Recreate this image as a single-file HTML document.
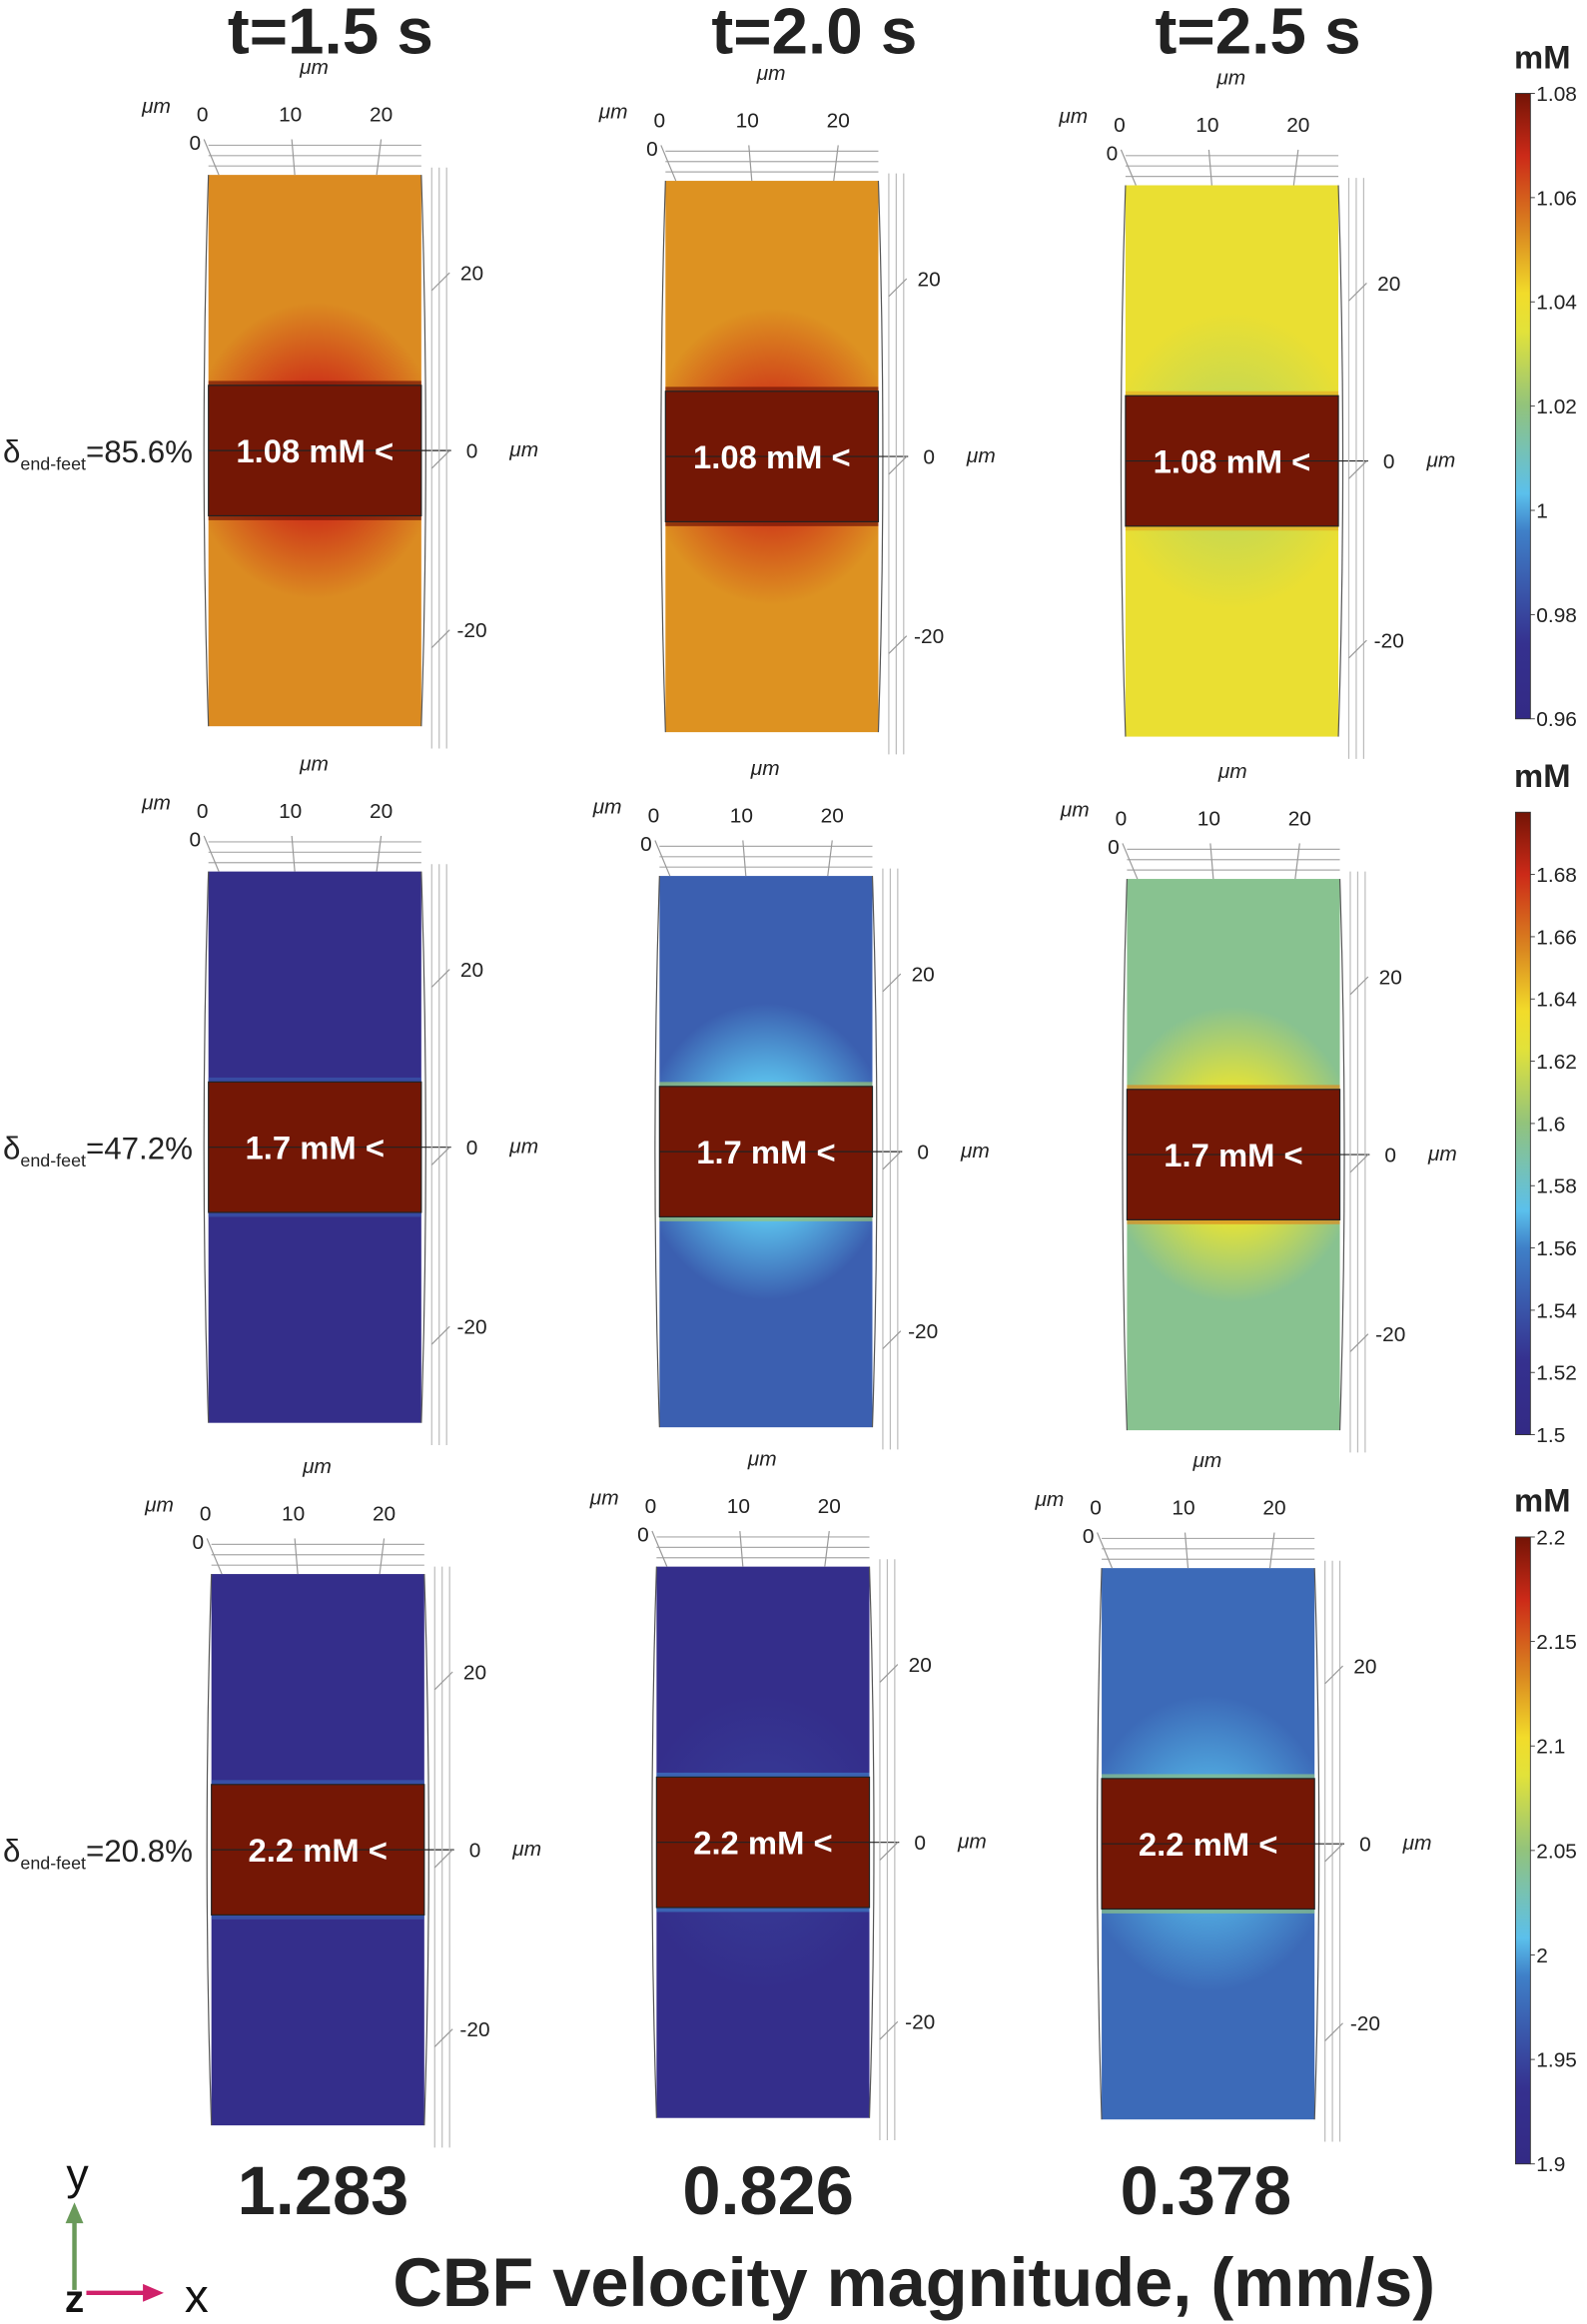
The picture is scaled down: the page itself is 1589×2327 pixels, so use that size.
<!DOCTYPE html>
<html><head><meta charset="utf-8"><style>
html,body{margin:0;padding:0;background:#fff;}
svg{display:block;font-family:"Liberation Sans",sans-serif;}
.ax{font-size:14px;fill:#222;}
</style></head><body>
<svg id="fig" width="1589" height="2327" viewBox="0 0 1066 1568" preserveAspectRatio="none" xmlns="http://www.w3.org/2000/svg">
<defs>
<linearGradient id="cmap" x1="0" y1="1" x2="0" y2="0">
<stop offset="0" stop-color="#332a85"/><stop offset="0.12" stop-color="#35318f"/>
<stop offset="0.3" stop-color="#3f80c8"/><stop offset="0.36" stop-color="#5bc0ec"/>
<stop offset="0.5" stop-color="#92c37c"/><stop offset="0.62" stop-color="#e2e23a"/>
<stop offset="0.68" stop-color="#f2dc2a"/><stop offset="0.78" stop-color="#da8720"/>
<stop offset="0.9" stop-color="#cc2a18"/><stop offset="1" stop-color="#731406"/>
</linearGradient>
</defs>
<g id="root"></g>
</svg>
<script>
const NS='http://www.w3.org/2000/svg';
const root=document.getElementById('root');
function mk(tag,attrs,parent,txt){const e=document.createElementNS(NS,tag);for(const k in attrs)e.setAttribute(k,attrs[k]);if(txt!==undefined)e.textContent=txt;(parent||root).appendChild(e);return e;}

// Data
const times=['t=1.5 s','t=2.0 s','t=2.5 s'];
const deltas=['85.6%','47.2%','20.8%'];
const bandLabels=['1.08 mM <','1.7 mM <','2.2 mM <'];
const velocities=['1.283','0.826','0.378'];
const cb1Ticks=[1.08,1.06,1.04,1.02,1,0.98,0.96];
const cb2Ticks=[1.68,1.66,1.64,1.62,1.6,1.58,1.56,1.54,1.52,1.5];
const cb3Ticks=[2.2,2.15,2.1,2.05,2,1.95,1.9];
const cbRanges=[[0.96,1.08],[1.5,1.7],[1.9,2.2]];
const cbTicks=[cb1Ticks,cb2Ticks,cb3Ticks];
// background concentration per panel (row-major)
const bgValues=[[1.053,1.052,1.038],[1.512,1.545,1.595],[1.922,1.922,1.975]];
const haloValues=[[1.066,1.064,1.03],[1.512,1.572,1.625],[1.922,1.94,2.0]];

// Layout (display coords)
const panelPos=[[[140,118],[447,122],[756,125]],[[140,588],[443,591],[757,593]],[[142,1062],[441,1057],[740,1058]]];
const PW=143,PH=372,BT=142,BH=88;
const cbBox=[[63,485],[548,968],[1037,1460]];
const colStops=[[0,'#332a85'],[0.12,'#35318f'],[0.3,'#3f80c8'],[0.36,'#5bc0ec'],[0.5,'#92c37c'],[0.62,'#e2e23a'],[0.68,'#f2dc2a'],[0.78,'#da8720'],[0.9,'#cc2a18'],[1,'#731406']];
function hex(h){return [1,3,5].map(i=>parseInt(h.substr(i,2),16));}
function cmap(t){t=Math.max(0,Math.min(1,t));for(let i=1;i<colStops.length;i++){if(t<=colStops[i][0]){const a=colStops[i-1],b=colStops[i];const f=(t-a[0])/(b[0]-a[0]);const ca=hex(a[1]),cb=hex(b[1]);return 'rgb('+ca.map((v,j)=>Math.round(v+(cb[j]-v)*f)).join(',')+')';}}return colStops[colStops.length-1][1];}

// Titles
times.forEach((t,c)=>{const x=[222,547,845][c];
 const e=mk('text',{x:x,y:36,'text-anchor':'middle','font-size':44,'font-weight':'bold',fill:'#222'},root,t);
 });

for(let r=0;r<3;r++){
 const [lo,hi]=cbRanges[r];
 const norm=v=>(v-lo)/(hi-lo);
 for(let c=0;c<3;c++){
  const [x0,y0]=panelPos[r][c];
  const g=mk('g',{});
  
  
  const gid='h'+r+c;
  const ccx=x0+PW/2, ccy=y0+BT+BH/2;
  const rg=mk('radialGradient',{id:gid,gradientUnits:'userSpaceOnUse',cx:0,cy:0,r:1,gradientTransform:`translate(${ccx} ${ccy}) scale(85 100)`},g);
  mk('stop',{offset:0,'stop-color':cmap(norm(haloValues[r][c]))},rg);
  mk('stop',{offset:0.45,'stop-color':cmap(norm(haloValues[r][c]))},rg);
  mk('stop',{offset:1,'stop-color':cmap(norm(bgValues[r][c]))},rg);
  mk('rect',{x:x0,y:y0,width:PW,height:PH,fill:'url(#'+gid+')'},g);
  // side outlines
  mk('path',{d:`M${x0} ${y0} Q${x0-6} ${y0+PH/2} ${x0} ${y0+PH}`,fill:'none',stroke:'#555','stroke-width':0.8},g);
  mk('path',{d:`M${x0+PW} ${y0} Q${x0+PW+6} ${y0+PH/2} ${x0+PW} ${y0+PH}`,fill:'none',stroke:'#555','stroke-width':0.8},g);
  // thin bright edges
  mk('rect',{x:x0,y:y0+BT-3,width:PW,height:3,fill:cmap(norm(haloValues[r][c])+0.15),opacity:0.7},g);
  mk('rect',{x:x0,y:y0+BT+BH,width:PW,height:3,fill:cmap(norm(haloValues[r][c])+0.15),opacity:0.7},g);
  const band=mk('rect',{x:x0,y:y0+BT,width:PW,height:BH,fill:'#741705',stroke:'#222','stroke-width':0.8},g);
  
  mk('line',{x1:x0,y1:y0+BT+BH/2,x2:x0+PW+20,y2:y0+BT+BH/2,stroke:'#222','stroke-width':0.8},g);
  mk('text',{x:x0+PW/2,y:y0+BT+BH/2+8,'text-anchor':'middle','font-size':22,'font-weight':'bold',fill:'#fff'},g,bandLabels[r]);
  // top axis
  mk('text',{x:x0+71,y:y0-68,'text-anchor':'middle',class:'ax','font-style':'italic'},g,'μm');
  mk('text',{x:x0-35,y:y0-42,'text-anchor':'middle',class:'ax','font-style':'italic'},g,'μm');
  [['0',-4],['10',55],['20',116]].forEach(([t,dx])=>mk('text',{x:x0+dx,y:y0-36,'text-anchor':'middle',class:'ax'},g,t));
  mk('text',{x:x0-9,y:y0-17,'text-anchor':'middle',class:'ax'},g,'0');
  [-20,-13,-6].forEach(d=>mk('line',{x1:x0,y1:y0+d,x2:x0+PW,y2:y0+d,stroke:'#aaa','stroke-width':0.8},g));
  [[-3,7],[56,58],[116,113]].forEach(([a,b])=>mk('line',{x1:x0+a,y1:y0-24,x2:x0+b,y2:y0,stroke:'#999','stroke-width':0.8},g));
  // right axis
  [150,155,160].forEach(d=>mk('line',{x1:x0+d,y1:y0-5,x2:x0+d,y2:y0+PH+15,stroke:'#bbb','stroke-width':0.8},g));
  [['20',66],['0',186],['-20',307]].forEach(([t,dy])=>{mk('text',{x:x0+177,y:y0+dy+5,'text-anchor':'middle',class:'ax'},g,t);
    mk('line',{x1:x0+150,y1:y0+dy+12,x2:x0+162,y2:y0+dy,stroke:'#999','stroke-width':0.8},g);});
  mk('text',{x:x0+212,y:y0+190,'text-anchor':'middle',class:'ax','font-style':'italic'},g,'μm');
 }
 // delta label
 const [dx0,dy0]=panelPos[r][0];
 const d=mk('text',{x:2,y:dy0+BT+BH/2+8,'font-size':21,fill:'#222'});
 
 mk('tspan',{},d,'δ');mk('tspan',{'font-size':12,dy:5},d,'end-feet');mk('tspan',{dy:-5},d,'='+deltas[r]);
 // colorbar
 const [cy0,cy1]=cbBox[r];
 const cb=mk('g',{});
 
 mk('text',{x:1036,y:cy0-17,'text-anchor':'middle','font-size':22,'font-weight':'bold',fill:'#222'},cb,'mM');
 mk('rect',{x:1018,y:cy0,width:10,height:cy1-cy0,fill:'url(#cmap)',stroke:'#333','stroke-width':0.6},cb);
 const ys=v=>cy1-(v-lo)/(hi-lo)*(cy1-cy0);
 cbTicks[r].forEach(v=>{const y=ys(v);
  mk('line',{x1:1028,y1:y,x2:1031,y2:y,stroke:'#333','stroke-width':0.6},cb);
  mk('text',{x:1032,y:y+5,class:'ax'},cb,String(v));});
}
// velocities
velocities.forEach((v,c)=>{const e=mk('text',{x:[217,516,810][c],y:1494,'text-anchor':'middle','font-size':46,'font-weight':'bold',fill:'#222'},root,v);
 });
const xl=mk('text',{x:614,y:1556,'text-anchor':'middle','font-size':46,'font-weight':'bold',fill:'#222'},root,'CBF velocity magnitude, (mm/s)');

// axis triad
const tri=mk('g',{});

mk('text',{x:52,y:1477,'text-anchor':'middle','font-size':30,fill:'#111'},tri,'y');
mk('line',{x1:50,y1:1545,x2:50,y2:1495,stroke:'#6a9a5a','stroke-width':3},tri);
mk('path',{d:'M44 1500 L50 1486 L56 1500 Z',fill:'#6a9a5a'},tri);
mk('text',{x:50,y:1560,'text-anchor':'middle','font-size':26,'font-weight':'bold',fill:'#111'},tri,'z');
mk('line',{x1:58,y1:1547,x2:100,y2:1547,stroke:'#d0206a','stroke-width':3},tri);
mk('path',{d:'M96 1541 L110 1547 L96 1553 Z',fill:'#d0206a'},tri);
mk('text',{x:132,y:1560,'text-anchor':'middle','font-size':32,fill:'#111'},tri,'x');
</script>
</body></html>
